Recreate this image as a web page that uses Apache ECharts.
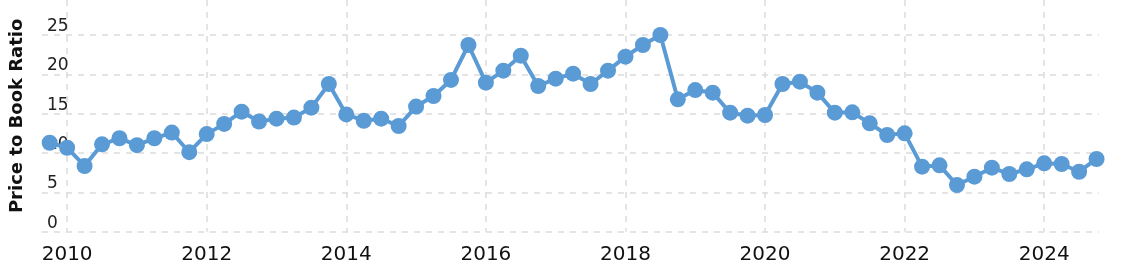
<!DOCTYPE html>
<html>
<head>
<meta charset="utf-8">
<script src="https://cdn.jsdelivr.net/npm/echarts@6/dist/echarts.min.js"></script>
<style>
html,body{margin:0;padding:0;background:#fff;}
#chart{width:1123px;height:270px;}
</style>
</head>
<body>
<div id="chart"></div>
<script>
// Quarter positions (decimal years) and price-to-book values
const quarters = [
  2009.75, 2010.0, 2010.25, 2010.5, 2010.75, 2011.0, 2011.25, 2011.5, 2011.75,
  2012.0, 2012.25, 2012.5, 2012.75, 2013.0, 2013.25, 2013.5, 2013.75,
  2014.0, 2014.25, 2014.5, 2014.75, 2015.0, 2015.25, 2015.5, 2015.75,
  2016.0, 2016.25, 2016.5, 2016.75, 2017.0, 2017.25, 2017.5, 2017.75,
  2018.0, 2018.25, 2018.5, 2018.75, 2019.0, 2019.25, 2019.5, 2019.75,
  2020.0, 2020.25, 2020.5, 2020.75, 2021.0, 2021.25, 2021.5, 2021.75,
  2022.0, 2022.25, 2022.5, 2022.75, 2023.0, 2023.25, 2023.5, 2023.75,
  2024.0, 2024.25, 2024.5, 2024.75
];
const pbRatio = [
  11.3, 10.67, 8.35, 11.1, 11.87, 11.0, 11.87, 12.6, 10.1,
  12.4, 13.7, 15.25, 14.0, 14.36, 14.5, 15.76, 18.77,
  14.9, 14.1, 14.36, 13.43, 15.9, 17.24, 19.28, 23.72,
  18.94, 20.46, 22.37, 18.51, 19.44, 20.08, 18.77, 20.46,
  22.24, 23.72, 24.99, 16.82, 18.0, 17.67, 15.12, 14.74,
  14.83, 18.77, 19.06, 17.67, 15.12, 15.17, 13.77, 12.29,
  12.5, 8.26, 8.43, 5.93, 6.99, 8.13, 7.33, 7.93,
  8.69, 8.6, 7.62, 9.24
];
const yTicks = [0, 5, 10, 15, 20, 25];
const xTickYears = [2010, 2012, 2014, 2016, 2018, 2020, 2022, 2024];
const yTitle = 'Price to Book Ratio';

const points = quarters.map((q, i) => [q, pbRatio[i]]);
const gridColor = '#dcdcdc';
const font = 'DejaVu Sans, Verdana, sans-serif';

const chart = echarts.init(document.getElementById('chart'), null, {renderer: 'canvas'});
chart.setOption({
  animation: false,
  backgroundColor: '#ffffff',
  grid: {left: 42, right: 24, top: 0, bottom: 38.3, containLabel: false},
  xAxis: {
    type: 'value',
    min: 2009.64,
    max: 2024.785,
    splitNumber: 7,
    axisLine: {show: false},
    axisTick: {show: false},
    axisLabel: {
      show: true,
      margin: 13,
      fontSize: 20,
      fontFamily: font,
      color: '#111',
      showMinLabel: false,
      showMaxLabel: false,
      formatter: v => xTickYears.includes(Math.round(v)) && Math.abs(v - Math.round(v)) < 1e-6 ? String(Math.round(v)) : ''
    },
    splitLine: {
      show: true,
      showMinLine: false,
      showMaxLine: false,
      lineStyle: {color: gridColor, type: [6, 6], width: 1.5}
    }
  },
  yAxis: {
    type: 'value',
    min: 0,
    max: 29.44,
    interval: 5,
    name: yTitle,
    nameLocation: 'middle',
    nameRotate: 90,
    nameGap: 16,
    nameTextStyle: {fontSize: 18, fontWeight: 'bold', fontFamily: font, color: '#111'},
    axisLine: {show: false},
    axisTick: {show: false},
    axisLabel: {
      inside: true,
      margin: 5,
      fontSize: 17,
      fontFamily: font,
      color: '#222',
      verticalAlign: 'bottom',
      showMaxLabel: false,
      formatter: v => yTicks.includes(v) ? String(v) : ''
    },
    splitLine: {
      show: true,
      showMaxLine: false,
      lineStyle: {color: gridColor, type: [6, 6], width: 1.5}
    }
  },
  series: [{
    type: 'line',
    data: points,
    symbol: 'circle',
    symbolSize: 16,
    lineStyle: {color: '#5b9bd5', width: 4},
    itemStyle: {color: '#5b9bd5'},
    z: 3
  }]
});
</script>
</body>
</html>
